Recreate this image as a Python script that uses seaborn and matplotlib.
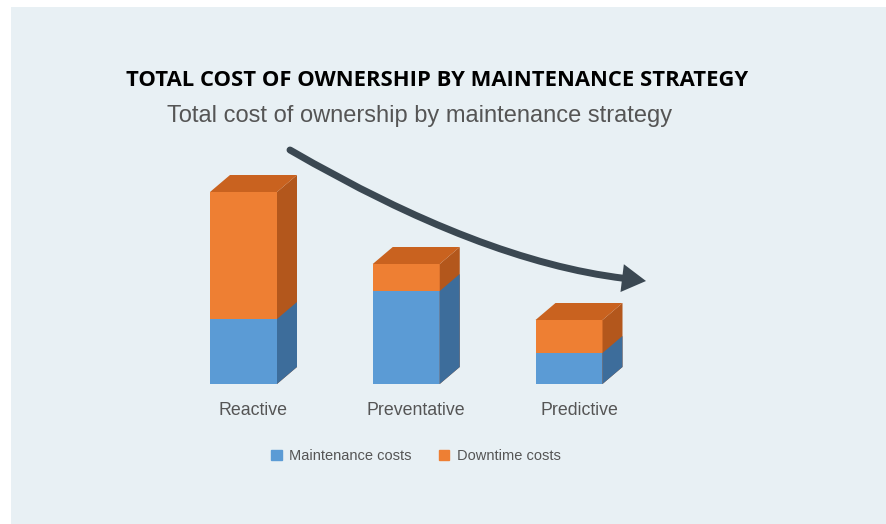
import numpy as np
import pandas as pd
import matplotlib
matplotlib.use("Agg")
import matplotlib.pyplot as plt
import seaborn as sns
from matplotlib.patches import Polygon, Rectangle, PathPatch, Patch
from matplotlib.path import Path

# ---- data ----
strategies = ["Reactive", "Preventative", "Predictive"]
maintenance_costs = [6.5, 9.3, 3.1]
downtime_costs = [12.7, 2.7, 3.3]
legend_labels = ["Maintenance costs", "Downtime costs"]
title = "TOTAL COST OF OWNERSHIP BY MAINTENANCE STRATEGY"
subtitle = "Total cost of ownership by maintenance strategy"

df = pd.DataFrame({
    "strategy": strategies,
    "maintenance": maintenance_costs,
    "downtime": downtime_costs,
})
df["total"] = df["maintenance"] + df["downtime"]

# colours
panel = "#e8f0f4"
blue_front, blue_side = "#5b9bd5", "#3d6d9b"
orange_front, orange_side, orange_top = "#ee7f33", "#b3571c", "#c9621f"
arrow_col = "#3b4852"
grey_text = "#555555"

sns.set_style("white")
plt.rcParams["font.family"] = ["Liberation Sans", "DejaVu Sans"]

W, H = 886, 524
fig = plt.figure(figsize=(W / 100, H / 100), dpi=100, facecolor=panel)

# decoration layer in pixel coordinates (white margin + arrow)
deco = fig.add_axes([0, 0, 1, 1])
deco.set_xlim(0, W)
deco.set_ylim(H, 0)
deco.axis("off")
deco.add_patch(Rectangle((0, 0), 11, H, color="white", lw=0, zorder=0))
deco.add_patch(Rectangle((0, 0), W, 7, color="white", lw=0, zorder=0))

# main bar axes: slot spacing 162.75 px, first bar centre 243.5 px, baseline 384 px
slot, first_c, base_px, px_per_unit = 162.75, 243.5, 384, 10
left_px, right_px, top_px = 80, 730, 140
ax = fig.add_axes([left_px / W, (H - base_px) / H,
                   (right_px - left_px) / W, (base_px - top_px) / H])
ax.patch.set_alpha(0)

bar_w = 67 / slot
sns.barplot(data=df, x="strategy", y="total", color=orange_front, width=bar_w,
            saturation=1, errorbar=None, linewidth=0, ax=ax)
sns.barplot(data=df, x="strategy", y="maintenance", color=blue_front, width=bar_w,
            saturation=1, errorbar=None, linewidth=0, ax=ax)
ax.set_xlim((left_px - first_c) / slot, (right_px - first_c) / slot)
ax.set_ylim(0, (base_px - top_px) / px_per_unit)

# fake 3D depth: side and top faces
ddx, ddy = 20 / slot, 17 / px_per_unit
n = len(strategies)
for k, p in enumerate(ax.patches[:2 * n]):
    x0, y0, w, h = p.get_x(), p.get_y(), p.get_width(), p.get_height()
    is_orange = k < n
    side = Polygon([(x0 + w, y0), (x0 + w + ddx, y0 + ddy),
                    (x0 + w + ddx, y0 + h + ddy), (x0 + w, y0 + h)],
                   closed=True, lw=0,
                   color=orange_side if is_orange else blue_side,
                   zorder=2 if is_orange else 3)
    ax.add_patch(side)
    if is_orange:
        top = Polygon([(x0, y0 + h), (x0 + ddx, y0 + h + ddy),
                       (x0 + w + ddx, y0 + h + ddy), (x0 + w, y0 + h)],
                      closed=True, lw=0, color=orange_top, zorder=2)
        ax.add_patch(top)

ax.set_xticks([i + ddx / 2 for i in range(n)], strategies)
ax.tick_params(axis="x", length=0, pad=13, labelsize=12.8, labelcolor=grey_text)
ax.set_yticks([])
ax.set_xlabel("")
ax.set_ylabel("")
sns.despine(ax=ax, left=True, bottom=True)

# curved trend arrow
p0, p1 = np.array([290, 150]), np.array([481, 261])
tip = np.array([646, 281])
d = (tip - p1) / np.linalg.norm(tip - p1)
nrm = np.array([-d[1], d[0]])
base_c = tip - 24 * d
curve = Path([p0, p1, base_c + 2 * d], [Path.MOVETO, Path.CURVE3, Path.CURVE3])
deco.add_patch(PathPatch(curve, fill=False, lw=5, color=arrow_col, capstyle="round"))
deco.add_patch(Polygon([tip, base_c + 14 * nrm, base_c - 14 * nrm],
                       closed=True, lw=0, color=arrow_col))

# titles
fig.text(437 / W, 1 - 81 / H, title, ha="center", va="center", fontsize=15.85,
         fontweight="bold", family=["Open Sans", "DejaVu Sans"], color="black")
fig.text(420 / W, 1 - 116 / H, subtitle, ha="center", va="center", fontsize=17,
         color=grey_text)

# legend
handles = [Patch(color=blue_front), Patch(color=orange_front)]
fig.legend(handles, legend_labels, loc="center", bbox_to_anchor=(416 / W, 1 - 456 / H),
           ncol=2, frameon=False, fontsize=10.5, labelcolor=grey_text,
           handlelength=0.7, handleheight=0.7, handletextpad=0.5, columnspacing=1.9)

fig.savefig("out.png", dpi=100, facecolor=fig.get_facecolor())
